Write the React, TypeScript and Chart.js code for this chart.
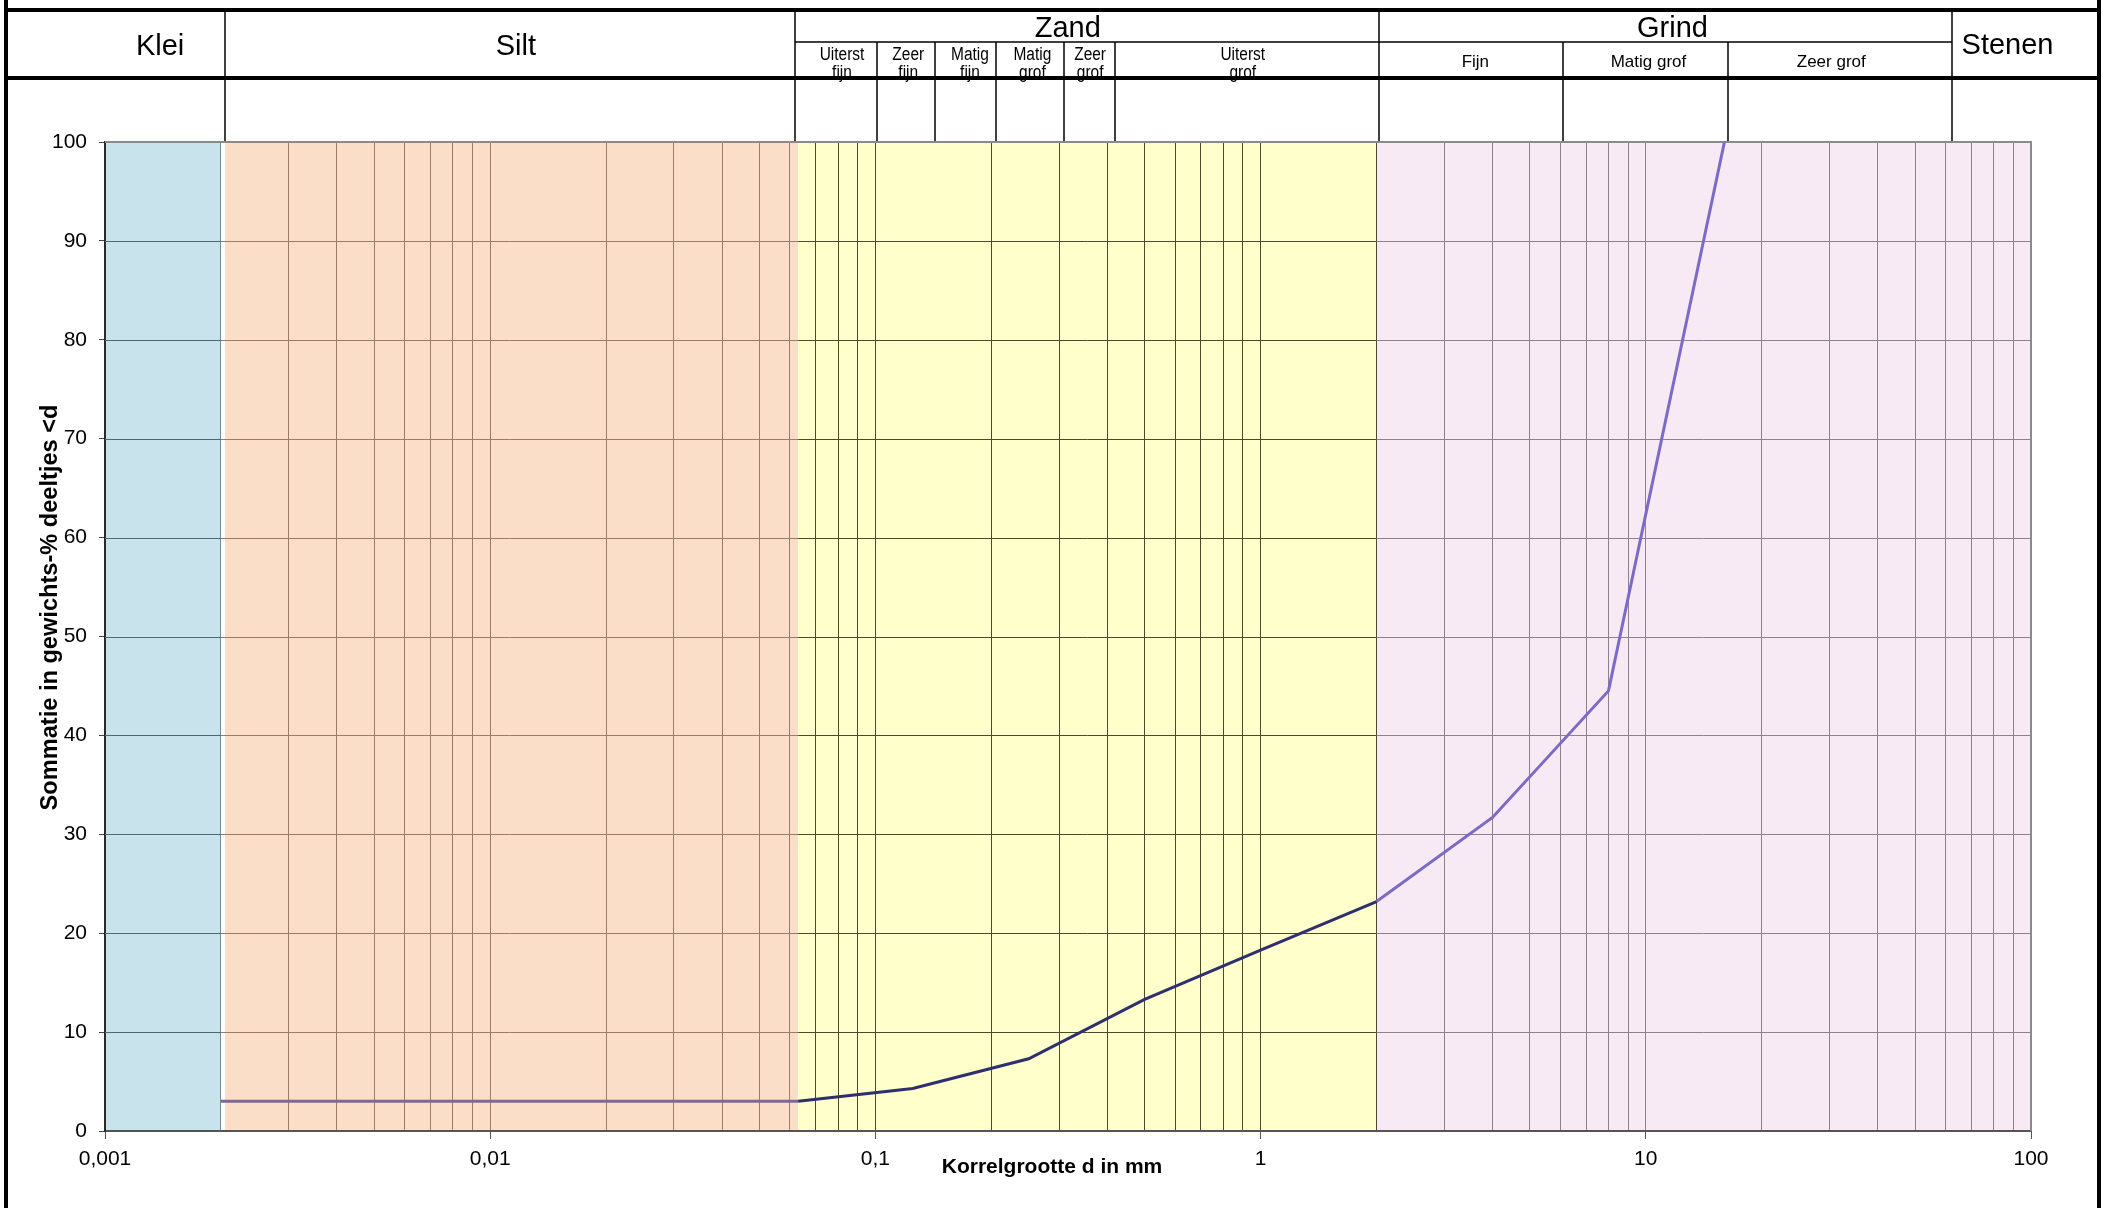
import React, { useEffect, useRef } from 'react';
import { Chart, registerables } from 'chart.js';

Chart.register(...registerables);

// ---------------- data ----------------
const GRAIN_SIZE_MM = [0.002, 0.063, 0.125, 0.25, 0.5, 1, 2, 4, 8, 16];
const CUMULATIVE_PERCENT = [3, 3, 4.3, 7.3, 13.3, 18.3, 23.2, 31.7, 44.5, 100];

const X_TICK_VALUES = [0.001, 0.01, 0.1, 1, 10, 100];
const X_TICK_LABELS = ['0,001', '0,01', '0,1', '1', '10', '100'];
const X_MINOR_STEPS = [1, 2, 3, 4, 5, 6, 7, 8, 9];
const Y_TICK_VALUES = [0, 10, 20, 30, 40, 50, 60, 70, 80, 90, 100];

const X_TITLE = 'Korrelgrootte d in mm';
const Y_TITLE = 'Sommatie in gewichts-% deeltjes <d';

const ZONE_NAMES = ['Klei', 'Silt', 'Zand', 'Grind'];
const ZONE_FROM_MM = [0.001, 0.00205, 0.063, 2];
const ZONE_TO_MM = [0.002, 0.063, 2, 100];

const HEADER_MAIN_LABELS = ['Klei', 'Silt', 'Zand', 'Grind', 'Stenen'];
const HEADER_MAIN_AT_MM = [0.00139, 0.01166, 0.3157, 11.73, 86.9];
const HEADER_SAND_LABELS = [
  ['Uiterst', 'fijn'],
  ['Zeer', 'fijn'],
  ['Matig', 'fijn'],
  ['Matig', 'grof'],
  ['Zeer', 'grof'],
  ['Uiterst', 'grof'],
];
const HEADER_SAND_AT_MM = [0.0819, 0.1217, 0.176, 0.2556, 0.3609, 0.899];
const HEADER_GRAVEL_LABELS = ['Fijn', 'Matig grof', 'Zeer grof'];
const HEADER_GRAVEL_AT_MM = [3.61, 10.16, 30.3];
const HEADER_MAIN_BOUNDS_MM = [0.00205, 0.062, 2.03, 62.5];
const HEADER_SUB_BOUNDS_MM = [0.101, 0.143, 0.206, 0.308, 0.419, 6.1, 16.3];

// ---------------- styles ----------------
const FONT = "'Liberation Sans', Arial, sans-serif";
const ZONE_FILL = ['#C8E3EB', '#FADEC7', '#FFFFCC', '#F8EAF5'];
const ZONE_GRID = ['#52676D', '#9A7C68', '#4A4A2C', '#8E808E'];
const KLEI_EDGE = '#6E8C95';
const LINE_SILT = '#7D6996';
const LINE_SAND = '#2F2F6F';
const LINE_GRAVEL = '#7B6BC6';

const X_GRID_VALUES = X_TICK_VALUES.slice(0, -1)
  .flatMap((d) => X_MINOR_STEPS.map((m) => +(m * d).toPrecision(6)))
  .concat([X_TICK_VALUES[X_TICK_VALUES.length - 1]]);

const near = (a: number, b: number) => Math.abs(a - b) <= Math.abs(b) * 1e-6;
const isDecade = (v: number) => X_TICK_VALUES.some((t) => near(v, t));

function xGridColor(v: number | undefined) {
  if (v === undefined) return 'rgba(0,0,0,0)';
  if (near(v, X_TICK_VALUES[0])) return 'rgba(0,0,0,0)';
  if (near(v, X_TICK_VALUES[X_TICK_VALUES.length - 1])) return '#8a8a8a';
  if (near(v, ZONE_TO_MM[0])) return KLEI_EDGE;
  if (v < ZONE_TO_MM[1]) return ZONE_GRID[1];
  if (v <= ZONE_TO_MM[2] * 1.000001) return ZONE_GRID[2];
  return ZONE_GRID[3];
}

function drawHeader(chart: any) {
  const { ctx, scales } = chart;
  const x = scales.x;
  const top = 10;
  const subLine = 42;
  const headBottom = 78;
  const frameL = 6;
  const frameR = 2099;
  const plotTop = chart.chartArea.top;

  ctx.save();
  ctx.fillStyle = '#000';
  ctx.textAlign = 'center';
  ctx.textBaseline = 'alphabetic';

  ctx.font = `29px ${FONT}`;
  HEADER_MAIN_LABELS.forEach((t, i) => {
    const px = x.getPixelForValue(HEADER_MAIN_AT_MM[i]);
    const spans = t === 'Zand' || t === 'Grind';
    ctx.fillText(t, px, spans ? 37 : t === 'Stenen' ? 54 : 55);
  });

  ctx.font = `18px ${FONT}`;
  HEADER_SAND_LABELS.forEach((lines, i) => {
    const px = x.getPixelForValue(HEADER_SAND_AT_MM[i]);
    ctx.save();
    ctx.translate(px, 0);
    ctx.scale(0.86, 1);
    lines.forEach((ln, k) => ctx.fillText(ln, 0, 60 + k * 18));
    ctx.restore();
  });

  ctx.font = `17px ${FONT}`;
  HEADER_GRAVEL_LABELS.forEach((t, i) => {
    const px = x.getPixelForValue(HEADER_GRAVEL_AT_MM[i]);
    ctx.fillText(t, px, 67);
  });

  ctx.strokeStyle = '#000';
  ctx.lineWidth = 1.5;
  HEADER_MAIN_BOUNDS_MM.forEach((v) => {
    const px = Math.round(x.getPixelForValue(v));
    ctx.beginPath();
    ctx.moveTo(px, top);
    ctx.lineTo(px, plotTop);
    ctx.stroke();
  });
  HEADER_SUB_BOUNDS_MM.forEach((v) => {
    const px = Math.round(x.getPixelForValue(v));
    ctx.beginPath();
    ctx.moveTo(px, subLine);
    ctx.lineTo(px, plotTop);
    ctx.stroke();
  });
  ctx.beginPath();
  ctx.moveTo(Math.round(x.getPixelForValue(HEADER_MAIN_BOUNDS_MM[1])), subLine);
  ctx.lineTo(Math.round(x.getPixelForValue(HEADER_MAIN_BOUNDS_MM[3])), subLine);
  ctx.stroke();

  ctx.lineWidth = 4;
  ctx.beginPath();
  ctx.moveTo(frameL - 2, top);
  ctx.lineTo(frameR + 2, top);
  ctx.moveTo(frameL, headBottom);
  ctx.lineTo(frameR, headBottom);
  ctx.moveTo(frameL, 0);
  ctx.lineTo(frameL, chart.height);
  ctx.moveTo(frameR, 0);
  ctx.lineTo(frameR, chart.height);
  ctx.stroke();
  ctx.restore();
}

const backdropPlugin = {
  id: 'backdrop',
  beforeDraw(chart: any) {
    const { ctx, chartArea: a, scales } = chart;
    const x = scales.x;
    ctx.save();
    ctx.fillStyle = '#ffffff';
    ctx.fillRect(0, 0, chart.width, chart.height);
    ZONE_NAMES.forEach((_, i) => {
      const x0 = x.getPixelForValue(ZONE_FROM_MM[i]);
      const x1 = x.getPixelForValue(ZONE_TO_MM[i]);
      ctx.fillStyle = ZONE_FILL[i];
      ctx.fillRect(x0, a.top, x1 - x0, a.bottom - a.top);
    });
    ctx.restore();
    drawHeader(chart);
  },
  beforeDatasetsDraw(chart: any) {
    const { ctx, chartArea: a, scales } = chart;
    const { x, y } = scales;
    ctx.save();
    ctx.lineWidth = 1;
    const yMin = Y_TICK_VALUES[0];
    const yMax = Y_TICK_VALUES[Y_TICK_VALUES.length - 1];
    Y_TICK_VALUES.forEach((v) => {
      if (v <= yMin || v >= yMax) return;
      const py = Math.round(y.getPixelForValue(v)) + 0.5;
      ZONE_NAMES.forEach((_, i) => {
        const from = i === 0 ? X_TICK_VALUES[0] : ZONE_TO_MM[i - 1];
        const x0 = x.getPixelForValue(from);
        const x1 = x.getPixelForValue(ZONE_TO_MM[i]);
        ctx.strokeStyle = ZONE_GRID[i];
        ctx.beginPath();
        ctx.moveTo(x0, py);
        ctx.lineTo(x1, py);
        ctx.stroke();
      });
    });
    ctx.strokeStyle = '#8a8a8a';
    ctx.lineWidth = 2;
    ctx.beginPath();
    ctx.moveTo(a.left, a.top);
    ctx.lineTo(a.right, a.top);
    ctx.lineTo(a.right, a.bottom);
    ctx.stroke();
    ctx.restore();
  },
  afterDraw(chart: any) {
    const { ctx, chartArea: a } = chart;
    ctx.save();
    ctx.fillStyle = '#000';
    ctx.textAlign = 'center';
    ctx.textBaseline = 'middle';
    ctx.font = `bold 21px ${FONT}`;
    ctx.fillText(X_TITLE, (a.left + a.right) / 2 - 16, 1167);
    ctx.font = `bold 23.6px ${FONT}`;
    ctx.translate(50, (a.top + a.bottom) / 2 - 29);
    ctx.rotate(-Math.PI / 2);
    ctx.fillText(Y_TITLE, 0, 0);
    ctx.restore();
  },
};

export default function App() {
  const ref = useRef<HTMLCanvasElement>(null);

  useEffect(() => {
    document.body.style.margin = '0';
    document.body.style.overflow = 'hidden';
    const canvas = ref.current;
    if (!canvas) return;

    const chart = new Chart(canvas, {
      type: 'line',
      data: {
        datasets: [
          {
            data: GRAIN_SIZE_MM.map((v, i) => ({ x: v, y: CUMULATIVE_PERCENT[i] })),
            borderColor: LINE_SAND,
            borderWidth: 3,
            pointRadius: 0,
            tension: 0,
            fill: false,
            segment: {
              borderColor: (c: any) => {
                const x0 = c.p0.parsed.x;
                if (x0 < GRAIN_SIZE_MM[1] - 1e-9) return LINE_SILT;
                if (x0 < ZONE_FROM_MM[3] - 1e-9) return LINE_SAND;
                return LINE_GRAVEL;
              },
            },
          },
        ],
      },
      options: {
        responsive: false,
        animation: false,
        devicePixelRatio: 1,
        layout: { padding: { top: 142, right: 80, bottom: 0, left: 0 } },
        plugins: { legend: { display: false }, tooltip: { enabled: false } },
        scales: {
          x: {
            type: 'logarithmic',
            min: X_TICK_VALUES[0],
            max: X_TICK_VALUES[X_TICK_VALUES.length - 1],
            afterBuildTicks: (s: any) => {
              s.ticks = X_GRID_VALUES.map((v) => ({ value: v, major: isDecade(v) }));
            },
            afterFit: (s: any) => {
              s.height = 77;
            },
            ticks: {
              autoSkip: false,
              maxRotation: 0,
              minRotation: 0,
              padding: 8,
              color: '#000',
              font: { family: FONT, size: 21 },
              callback: (v: any) => {
                const idx = X_TICK_VALUES.findIndex((t) => near(Number(v), t));
                return idx >= 0 ? X_TICK_LABELS[idx] : '';
              },
            },
            grid: {
              color: (c: any) => xGridColor(c.tick ? c.tick.value : undefined),
              lineWidth: 1,
              drawTicks: true,
              tickLength: 8,
              tickColor: (c: any) => (c.tick && isDecade(c.tick.value) ? '#555555' : 'rgba(0,0,0,0)'),
            },
            border: { color: '#555555', width: 2 },
            title: { display: false },
          },
          y: {
            type: 'linear',
            min: Y_TICK_VALUES[0],
            max: Y_TICK_VALUES[Y_TICK_VALUES.length - 1],
            afterBuildTicks: (s: any) => {
              s.ticks = Y_TICK_VALUES.map((v) => ({ value: v }));
            },
            afterFit: (s: any) => {
              s.width = 105;
            },
            ticks: {
              padding: 12,
              color: '#000',
              font: { family: FONT, size: 21 },
              callback: (v: any) => String(v),
            },
            grid: {
              drawOnChartArea: false,
              drawTicks: true,
              tickLength: 6,
              tickColor: '#444444',
            },
            border: { color: '#2a2a2a', width: 2 },
            title: { display: false },
          },
        },
      } as any,
      plugins: [backdropPlugin],
    });

    return () => chart.destroy();
  }, []);

  return (
    <div style={{ position: 'relative', width: 2111, height: 1208 }}>
      <canvas ref={ref} width={2111} height={1208} style={{ display: 'block', width: 2111, height: 1208 }} />
    </div>
  );
}
